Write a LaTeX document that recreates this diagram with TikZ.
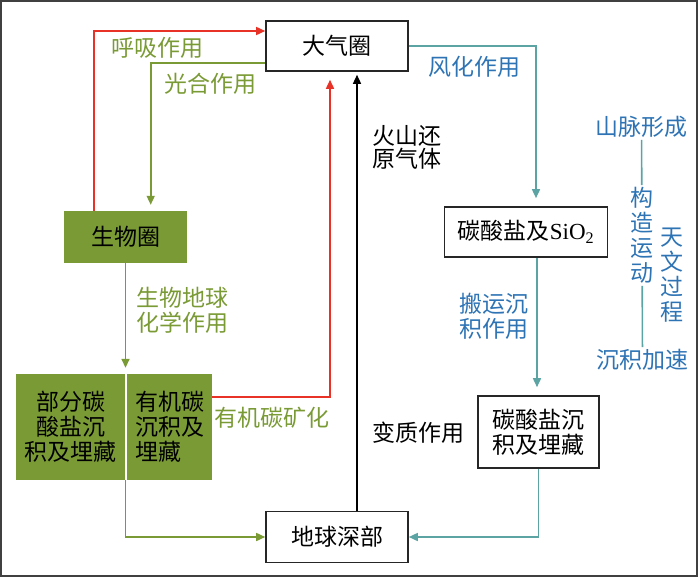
\documentclass[tikz,border=0pt]{standalone}
\usepackage{fontspec}
\setmainfont{Liberation Serif}
\newfontfamily\cjk{Noto Sans CJK SC}
\usetikzlibrary{arrows.meta}
\tikzset{>/.tip={Triangle[length=9pt,width=8pt]}}
\definecolor{cred}{RGB}{232,50,40}
\definecolor{cgreen}{RGB}{122,154,53}
\definecolor{cteal}{RGB}{92,164,164}
\definecolor{cblue}{RGB}{46,116,181}
\definecolor{cframe}{RGB}{64,64,64}

\begin{document}
\begin{tikzpicture}[x=1pt,y=-1pt,
  every node/.style={font=\cjk\fontsize{23}{25}\selectfont, inner sep=2pt},
  box/.style={draw=black!85, line width=1.6pt, minimum width=142pt, minimum height=50pt},
  greenbox/.style={fill=cgreen, minimum height=106pt},
  rline/.style={cred, line width=1.6pt},
  gline/.style={cgreen, line width=1.6pt},
  tline/.style={cteal, line width=1.6pt},
  kline/.style={black, line width=1.4pt}]
\useasboundingbox (0,0) rectangle (700,578);
\draw[cframe, line width=2pt] (1,1) rectangle (697,576);
% boxes
\node[box] (atm) at (337,46) {大气圈};
\node[box, minimum height=51pt] (deep) at (337,537) {地球深部};
\node[box, minimum width=163pt] (carb) at (526,232) {碳酸盐及{\rmfamily SiO\textsubscript{2}}};
\node[box, minimum width=121pt, minimum height=72pt, align=center] (sed) at (538.5,432) {碳酸盐沉\\积及埋藏};
\node[fill=cgreen, minimum width=123pt, minimum height=52pt] (bio) at (125.5,237) {生物圈};
\node[greenbox, minimum width=109pt, align=center] (inorg) at (70.5,427) {部分碳\\酸盐沉\\积及埋藏};
\node[greenbox, minimum width=85pt, align=left] (org) at (169.5,427) {有机碳\\沉积及\\埋藏};
% labels
\node[text=cgreen] (resp) at (157.5,48) {呼吸作用};
\node[text=cgreen] (photo) at (210,84) {光合作用};
\node[text=cblue] (weath) at (474.5,67) {风化作用};
\node[align=left, font=\cjk\fontsize{23}{23}\selectfont] (volc) at (407,147.5) {火山还\\原气体};
\node[text=cgreen, align=left] (biogeo) at (182.5,310.5) {生物地球\\化学作用};
\node[text=cgreen] (miner) at (272,418) {有机碳矿化};
\node[text=cblue, align=left] (trans) at (494,316.5) {搬运沉\\积作用};
\node (meta) at (418.5,433) {变质作用};
\node[text=cblue] (mtn) at (641.5,127) {山脉形成};
\node[text=cblue, align=center] (tect) at (642,235.5) {构\\造\\运\\动};
\node[text=cblue, align=center] (astro) at (672,275) {天\\文\\过\\程};
\node[text=cblue] (acc) at (642.5,360) {沉积加速};
% connectors
\draw[rline, ->] ([xshift=-31.5pt]bio.north) |- ([yshift=15pt]atm.west);
\draw[gline, ->, shorten >=6pt] ([yshift=-16.7pt]atm.west) -| ([xshift=25.2pt]bio.north);
\draw[tline, ->, shorten >=8pt] (atm.east) -| ([xshift=10pt]carb.north);
\draw[kline, ->, shorten >=3pt] ([xshift=20pt]deep.north) -- ([xshift=20pt]atm.south);
\draw[rline, ->, shorten >=8pt] ([yshift=30pt]org.east) -| ([xshift=-7pt]atm.south);
\draw[gline, ->, shorten >=6pt] (bio.south) -- (bio.south |- org.north);
\draw[gline, ->] (bio.south |- org.south) |- (deep.west);
\draw[tline, ->, shorten >=8pt] ([xshift=11pt]carb.south) -- ([xshift=11pt]carb.south |- sed.north);
\draw[tline, ->] (sed.south) |- (deep.east);
\draw[tline] (mtn) -- (tect);
\draw[tline] (tect) -- (acc);
\end{tikzpicture}
\end{document}
